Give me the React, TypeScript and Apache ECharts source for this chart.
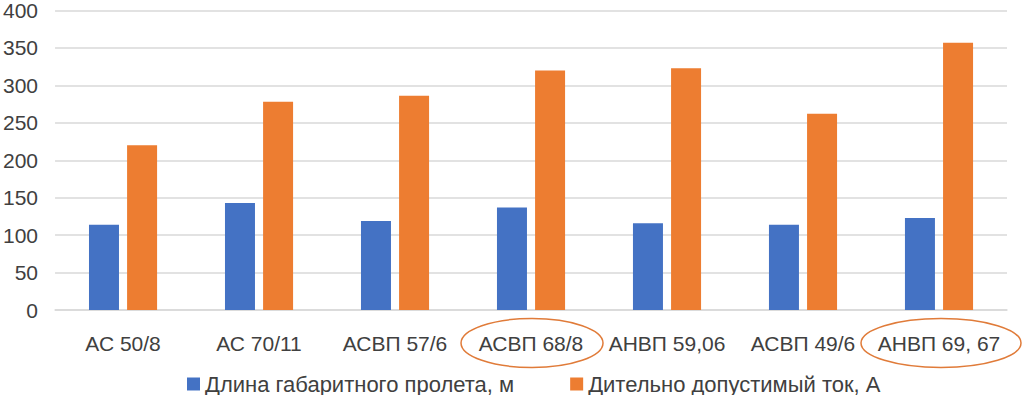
import React, { useEffect, useRef } from "react";
import * as echarts from "echarts";

const categories = ["АС 50/8", "АС 70/11", "АСВП 57/6", "АСВП 68/8", "АНВП 59,06", "АСВП 49/6", "АНВП 69, 67"];
const spanLength = [114, 143, 119, 137, 116, 114, 123];
const allowedCurrent = [220, 278, 286, 320, 323, 262, 357];
const seriesNames = ["Длина габаритного пролета, м", "Дительно допустимый ток, А"];
const highlighted = ["АСВП 68/8", "АНВП 69, 67"];

const FONT = "'Liberation Sans', Arial, sans-serif";
const TEXT = "#404040";

export default function App() {
  const ref = useRef<HTMLDivElement>(null);
  useEffect(() => {
    if (!ref.current) return;
    const chart = echarts.init(ref.current, null, { renderer: "svg" });
    chart.setOption({
      animation: false,
      textStyle: { fontFamily: FONT },
      grid: { left: 53, right: 17, top: 9, bottom: 85, containLabel: false },
      xAxis: {
        type: "category",
        data: categories,
        axisTick: { show: false },
        axisLine: { lineStyle: { color: "#D9D9D9", width: 1.5 } },
        axisLabel: { color: TEXT, fontSize: 21, margin: 23, lineHeight: 20, fontFamily: FONT, interval: 0 },
      },
      yAxis: {
        type: "value",
        min: 0,
        max: 400,
        interval: 50,
        axisLine: { show: false },
        axisTick: { show: false },
        splitLine: { lineStyle: { color: "#D9D9D9", width: 1.5 } },
        axisLabel: { color: TEXT, fontSize: 21, margin: 17, fontFamily: FONT },
      },
      legend: {
        top: 373,
        left: 187,
        padding: 0,
        itemWidth: 13,
        itemHeight: 13,
        itemGap: 56,
        icon: "rect",
        textStyle: { color: TEXT, fontSize: 22, lineHeight: 22, fontFamily: FONT },
        data: seriesNames,
      },
      series: [
        {
          name: seriesNames[0],
          type: "bar",
          data: spanLength,
          barWidth: 30,
          barGap: "27%",
          itemStyle: { color: "#4472C4" },
        },
        {
          name: seriesNames[1],
          type: "bar",
          data: allowedCurrent,
          barWidth: 30,
          barGap: "27%",
          itemStyle: { color: "#ED7D31" },
        },
      ],
    });
    const y0 = chart.convertToPixel({ yAxisIndex: 0 }, 0) as number;
    const ellipses = highlighted.map((c, i) => {
      const cx = chart.convertToPixel({ xAxisIndex: 0 }, c) as number;
      return {
        type: "ellipse",
        shape: { cx: cx + (i === 0 ? 1 : 2), cy: y0 + 33, rx: i === 0 ? 71 : 80, ry: 24.5 },
        style: { fill: "none", stroke: "#E07B39", lineWidth: 1.5 },
        silent: true,
      };
    });
    chart.setOption({ graphic: ellipses });
    return () => chart.dispose();
  }, []);
  return <div ref={ref} style={{ width: 1024, height: 395, position: "absolute", left: 0, top: 0 }} />;
}
